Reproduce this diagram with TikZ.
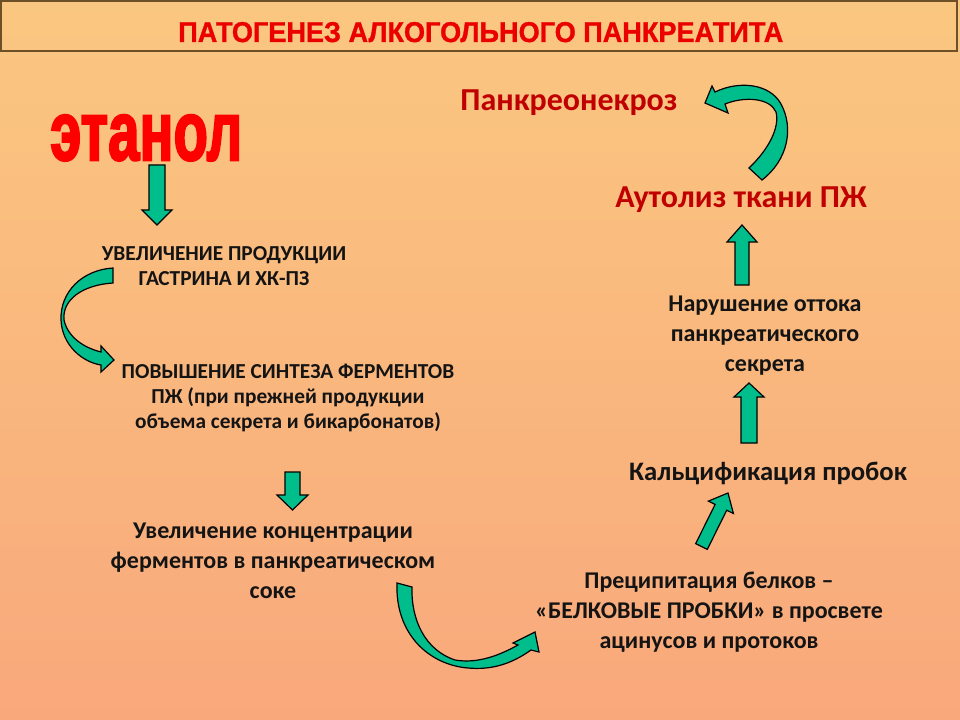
\documentclass[tikz,border=0pt]{standalone}
\usepackage{fontspec}
\usepackage{graphicx}
\setmainfont{Carlito}
\newfontfamily\arialfont{Liberation Sans}[FakeBold=1.2]
\newfontfamily\arialheavy{Liberation Sans}[FakeBold=3]
\newlength\pxu
\setlength\pxu{0.75pt}
\definecolor{bgtop}{RGB}{250,199,128}
\definecolor{bgbot}{RGB}{249,168,124}
\definecolor{bandline}{RGB}{110,80,40}
\definecolor{titlered}{RGB}{235,0,0}
\definecolor{ethred}{RGB}{255,0,0}
\definecolor{darkred}{RGB}{192,0,0}
\definecolor{txtblack}{RGB}{20,20,20}
\definecolor{arrowgreen}{RGB}{0,190,140}
\begin{document}
\begin{tikzpicture}[x=0.75pt,y=-0.75pt,
  blk/.style={draw=black, line width=0.9pt, fill=arrowgreen, line join=miter},
  txt/.style={align=center, text=txtblack, inner sep=0pt, font=\bfseries\fontsize{18}{22.5}\selectfont},
  smalltxt/.style={txt, font=\bfseries\fontsize{16}{18.75}\selectfont},
  redtxt/.style={txt, text=darkred, font=\bfseries\fontsize{24}{28}\selectfont}]
\useasboundingbox (0,0) rectangle (960,720);
\shade[top color=bgtop, bottom color=bgbot] (0,0) rectangle (960,720);
\draw[line width=1.2pt, draw=bandline] (1,1) rectangle (957,51);
\node[anchor=base west, inner sep=0pt, text=titlered] (title) at (178,42)
  {\resizebox{605\pxu}{20\pxu}{\arialfont\bfseries ПАТОГЕНЕЗ АЛКОГОЛЬНОГО ПАНКРЕАТИТА}};
\node[anchor=base west, inner sep=0pt, text=ethred] (eth) at (50,160)
  {\resizebox{192\pxu}{45\pxu}{\arialheavy\bfseries этанол}};

% texts
\node[smalltxt] (gastr) at (224,266) {УВЕЛИЧЕНИЕ ПРОДУКЦИИ\\ГАСТРИНА И ХК-ПЗ};
\node[smalltxt] (synth) at (288,398) {ПОВЫШЕНИЕ СИНТЕЗА ФЕРМЕНТОВ\\ПЖ (при прежней продукции\\объема секрета и бикарбонатов)};
\node[txt] (conc) at (273,561) {Увеличение концентрации\\ферментов в панкреатическом\\соке};
\node[txt] (prec) at (709,612) {Преципитация белков –\\«БЕЛКОВЫЕ ПРОБКИ» в просвете\\ацинусов и протоков};
\node[txt, font=\bfseries\fontsize{20}{24}\selectfont] (calc) at (768,473) {Кальцификация пробок};
\node[txt] (outf) at (765,336) {Нарушение оттока\\панкреатического\\секрета};
\node[redtxt] (auto) at (741,200) {Аутолиз ткани ПЖ};
\node[redtxt] (necr) at (569,103) {Панкреонекроз};

% straight block arrows
\draw[blk] (149,165) -- (165,165) -- (165,210) -- (172,210) -- (157,225) -- (142,210) -- (149,210) -- cycle;
\draw[blk] (285,472) -- (300,472) -- (300,495) -- (308,495) -- (292.5,510) -- (277,495) -- (285,495) -- cycle;
\draw[blk] (735,285) -- (749,285) -- (749,242) -- (757,242) -- (742,225) -- (727,242) -- (735,242) -- cycle;
\draw[blk] (741,443) -- (757,443) -- (757,397) -- (764,397) -- (749,383) -- (734,397) -- (741,397) -- cycle;
\draw[blk] (695.7,543.6) -- (715.1,504.4) -- (708.4,501.1) -- (728,493) -- (733.4,513.5) -- (726.7,510.2) -- (707.3,549.4) -- cycle;

% curved arrows
\draw[blk] (113,268) .. controls (82,270) and (60,292) .. (61,320)
  .. controls (62,345) and (82,362) .. (101,365) -- (101,372) -- (114,360) -- (101,346) -- (101,352)
  .. controls (85,348) and (68,338) .. (64,320)
  .. controls (62,300) and (82,285) .. (113,283) -- cycle;
\draw[blk] (715,92) .. controls (740,80) and (770,84) .. (781,104)
  .. controls (794,128) and (788,160) .. (762,180) -- (749,168)
  .. controls (768,150) and (780,128) .. (776,112)
  .. controls (770,98) and (745,96) .. (725,104) -- (728,113) -- (705,103) -- (712,86) -- cycle;
\draw[blk] (397,583) -- (412,587) .. controls (411,620) and (425,650) .. (455,660)
  .. controls (478,664) and (500,655) .. (518,645) -- (513,643) -- (535,632) -- (539,652) -- (531,650)
  .. controls (510,665) and (490,670) .. (468,668)
  .. controls (430,665) and (395,635) .. (397,583) -- cycle;
\end{tikzpicture}
\end{document}
